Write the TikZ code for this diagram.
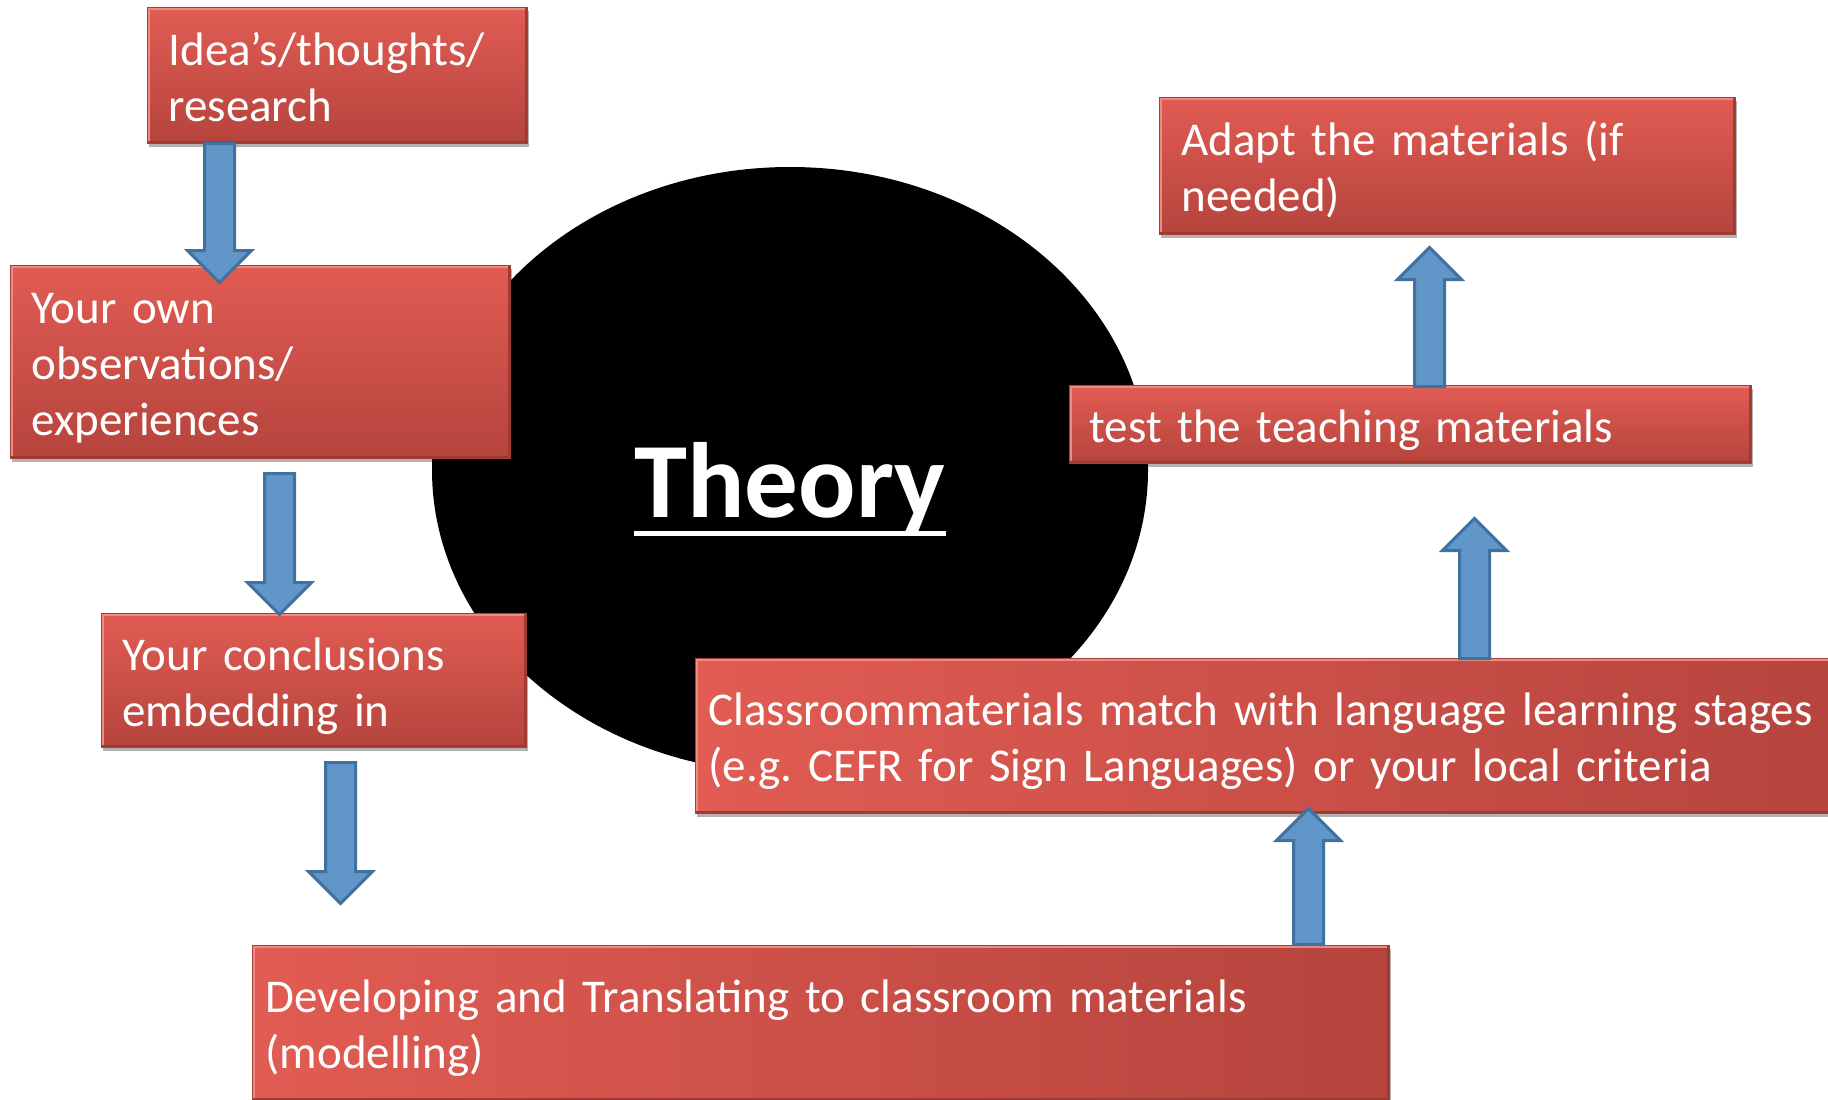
\documentclass[tikz,border=0pt]{standalone}
\usepackage{fontspec}
\setmainfont{Carlito}
\usetikzlibrary{calc,shadows,shapes.geometric}
\frenchspacing
\definecolor{boxtop}{HTML}{E15C53}
\definecolor{boxbot}{HTML}{B5443D}
\definecolor{boxedge}{HTML}{A8403A}
\definecolor{bevhi}{HTML}{F08A80}
\definecolor{bevlo}{HTML}{9E3A34}
\definecolor{arrfill}{HTML}{6196C8}
\definecolor{arredge}{HTML}{41719E}
\newcommand\boxfont{\fontsize{47pt}{56pt}\selectfont\frenchspacing}
\newcommand\theoryfont{\fontsize{107pt}{120pt}\selectfont\bfseries}
\newcommand\bxstrut{\rule[-10pt]{0pt}{56pt}}
\newcommand\blkdown[2]{\draw[blkarrow] ($(#1)+(-15,0)$) -- ($(#2)+(-15,-32)$) -- ($(#2)+(-32,-32)$) -- (#2) -- ($(#2)+(32,-32)$) -- ($(#2)+(15,-32)$) -- ($(#1)+(15,0)$) -- cycle;}
\newcommand\blkup[2]{\draw[blkarrow] ($(#1)+(-15,0)$) -- ($(#2)+(-15,32)$) -- ($(#2)+(-32,32)$) -- (#2) -- ($(#2)+(32,32)$) -- ($(#2)+(15,32)$) -- ($(#1)+(15,0)$) -- cycle;}
\tikzset{
  basebox/.style={rectangle, anchor=west, inner ysep=0pt, font=\boxfont, text=white,
    align=left, draw=boxedge, line width=1pt,
    drop shadow={shadow xshift=1pt, shadow yshift=-4pt, opacity=0.3, fill=black},
    path picture={
      \draw[bevhi, line width=6pt] (path picture bounding box.north west) -- (path picture bounding box.north east);
      \draw[bevhi, line width=5pt] (path picture bounding box.north west) -- (path picture bounding box.south west);
      \draw[bevlo, line width=5pt] (path picture bounding box.south west) -- (path picture bounding box.south east);
      \draw[bevlo, line width=5pt] (path picture bounding box.north east) -- (path picture bounding box.south east);
    },
    execute at begin node=\bxstrut, execute at end node=\bxstrut},
  vbx/.style={basebox, top color=boxtop, bottom color=boxbot},
  hbx/.style={basebox, left color=boxtop, right color=boxbot},
  blkarrow/.style={fill=arrfill, draw=arredge, line width=3pt, line join=miter},
}
\begin{document}
\begin{tikzpicture}[x=1pt,y=-1pt]
\useasboundingbox (0,0) rectangle (1828,1100);
\fill[white] (0,0) rectangle (1828,1100);

% central ellipse and title
\node[ellipse, fill=black, minimum width=716pt, minimum height=606pt, inner sep=0pt] (core) at (790,470) {};
\node[font=\theoryfont, text=white, inner sep=0pt, anchor=base] (th) at (790,517) {Theory};
\draw[white, line width=5pt] ($(th.base west)+(0,16)$) -- ($(th.base east)+(0,16)$);

% boxes
\node[vbx, minimum width=380pt, minimum height=136pt, text width=338pt, inner xsep=21pt] (b1) at (147,75) {Idea’s/thoughts/\\research};
\node[vbx, minimum width=500pt, minimum height=193pt, text width=458pt, inner xsep=21pt] (b2) at (10,361.5) {Your own\\observations/\\experiences};
\node[vbx, minimum width=425pt, minimum height=134pt, text width=383pt, inner xsep=21pt] (b3) at (101,680) {Your conclusions\\embedding in};
\node[hbx, minimum width=1137pt, minimum height=155pt, text width=1111pt, inner xsep=13pt] (b4) at (252,1022.5) {Developing and Translating to classroom materials\\(modelling)};
\node[hbx, minimum width=1160pt, minimum height=155pt, text width=1134pt, inner xsep=13pt] (b5) at (695,735.5) {Classroommaterials match with language learning stages\\(e.g. CEFR for Sign Languages) or your local criteria};
\node[vbx, minimum width=682pt, minimum height=78pt, text width=642pt, inner xsep=20pt] (b6) at (1069,424) {test the teaching materials};
\node[vbx, minimum width=576pt, minimum height=137pt, text width=532pt, inner xsep=22pt] (b7) at (1159,165.5) {Adapt the materials (if\\needed)};

% arrow end points
\coordinate (a1s) at ($(b1.south)+(-118,0)$);
\coordinate (a1e) at ($(b2.north)+(-41,18)$);
\coordinate (a2s) at ($(b2.south)+(19,15)$);
\coordinate (a2e) at ($(b3.north)+(-34.5,2)$);
\coordinate (a3s) at ($(b3.south)+(26.5,15)$);
\coordinate (a3e) at ($(a3s)+(0,141)$);
\coordinate (a4s) at ($(b4.north)+(487.5,0)$);
\coordinate (a4e) at ($(b5.south)+(33,-5)$);
\coordinate (a5s) at ($(b5.north)+(199,1)$);
\coordinate (a5e) at ($(b6.south)+(64,55)$);
\coordinate (a6s) at ($(b6.north)+(19,2)$);
\coordinate (a6e) at ($(b7.south)+(-18,13)$);

\blkdown{a1s}{a1e}
\blkdown{a2s}{a2e}
\blkdown{a3s}{a3e}
\blkup{a4s}{a4e}
\blkup{a5s}{a5e}
\blkup{a6s}{a6e}
\end{tikzpicture}
\end{document}
